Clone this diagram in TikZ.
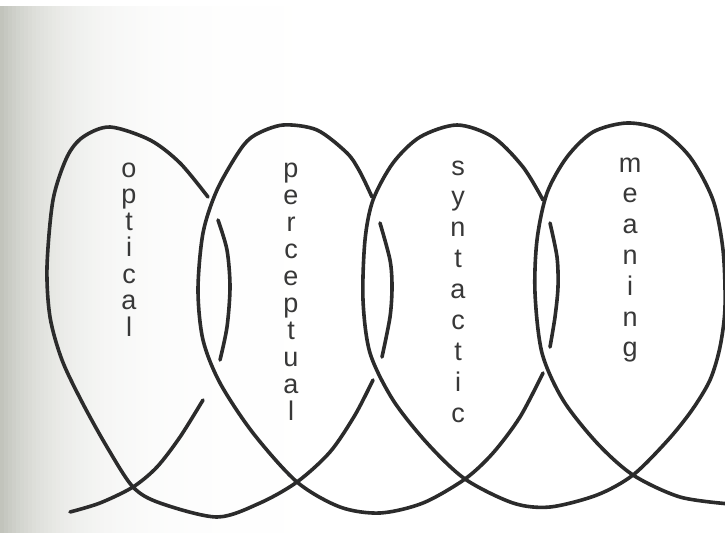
\documentclass[tikz,border=0pt]{standalone}
\usepackage{fontspec}
\setmainfont{Liberation Sans}
\definecolor{linecol}{HTML}{2B2B2B}
\definecolor{textcol}{HTML}{383838}
\definecolor{paperedge}{HTML}{C2C4BC}
\begin{document}
\begin{tikzpicture}[x=1pt,y=-1pt,
  coil/.style={line width=3.6pt, draw=linecol, line cap=round, line join=round},
  letter/.style={anchor=base, font=\fontsize{27}{27}\selectfont, text=textcol, inner sep=0pt}]
\useasboundingbox (0,0) rectangle (725,533);
\clip (0,0) rectangle (725,533);
\fill[white] (0,0) rectangle (725,533);
% paper shading towards the left edge
\foreach \k in {0,...,79}{
  \pgfmathsetmacro{\amt}{100*exp(-\k/14)}
  \fill[paperedge!\amt!white] ({4*\k},6) rectangle ({4*\k+4.6},533);
}
% coil pieces
\draw[coil] plot[smooth] coordinates {(70,512) (100,503) (133,487) (157,467) (180,437) (203,400)};
\draw[coil] plot[smooth] coordinates {(218,220) (227,250) (230,287) (227,327) (220,360)};
\draw[coil] plot[smooth] coordinates {(208,197) (180,163) (150,140) (110,127) (83,137) (67,157) (53,200) (47,267) (50,317) (62,360) (82,402) (107,447) (133,487) (160,503) (217,517) (260,503) (297,482) (330,452) (355,415) (373,380)};
\draw[coil] plot[smooth] coordinates {(380,223) (390,260) (392,287) (390,317) (382,357)};
\draw[coil] plot[smooth] coordinates {(372,197) (360,172) (347,153) (317,130) (283,125) (255,135) (240,150) (217,190) (203,233) (198,290) (203,340) (220,383) (253,433) (297,482) (340,507) (380,513) (423,503) (465,479) (493,453) (520,417) (543,373)};
\draw[coil] plot[smooth] coordinates {(550,223) (557,257) (558,287) (555,317) (550,347)};
\draw[coil] plot[smooth] coordinates {(543,200) (523,167) (493,137) (457,125) (420,137) (393,163) (373,200) (365,240) (363,300) (370,353) (393,400) (427,443) (465,479) (513,503) (550,507) (597,495) (633,475) (668,440) (692,410) (710,380) (720,347) (725,307) (723,250) (713,200) (690,157) (660,130) (627,123) (593,132) (567,157) (547,193) (537,240) (535,293) (542,353) (563,400) (597,443) (633,475) (680,497) (730,504)};
% labels
\foreach \ch [count=\i] in {o,p,t,i,c,a,l}
  \node[letter] (opt\i) at (129,{177+26.5*(\i-1)}) {\ch};
\foreach \ch [count=\i] in {p,e,r,c,e,p,t,u,a,l}
  \node[letter] (per\i) at (291,{177+27*(\i-1)}) {\ch};
\foreach \ch [count=\i] in {s,y,n,t,a,c,t,i,c}
  \node[letter] (syn\i) at (458,{175+30.9*(\i-1)}) {\ch};
\foreach \ch [count=\i] in {m,e,a,n,i,n,g}
  \node[letter] (mea\i) at (630,{172+30.8*(\i-1)}) {\ch};
\end{tikzpicture}
\end{document}
